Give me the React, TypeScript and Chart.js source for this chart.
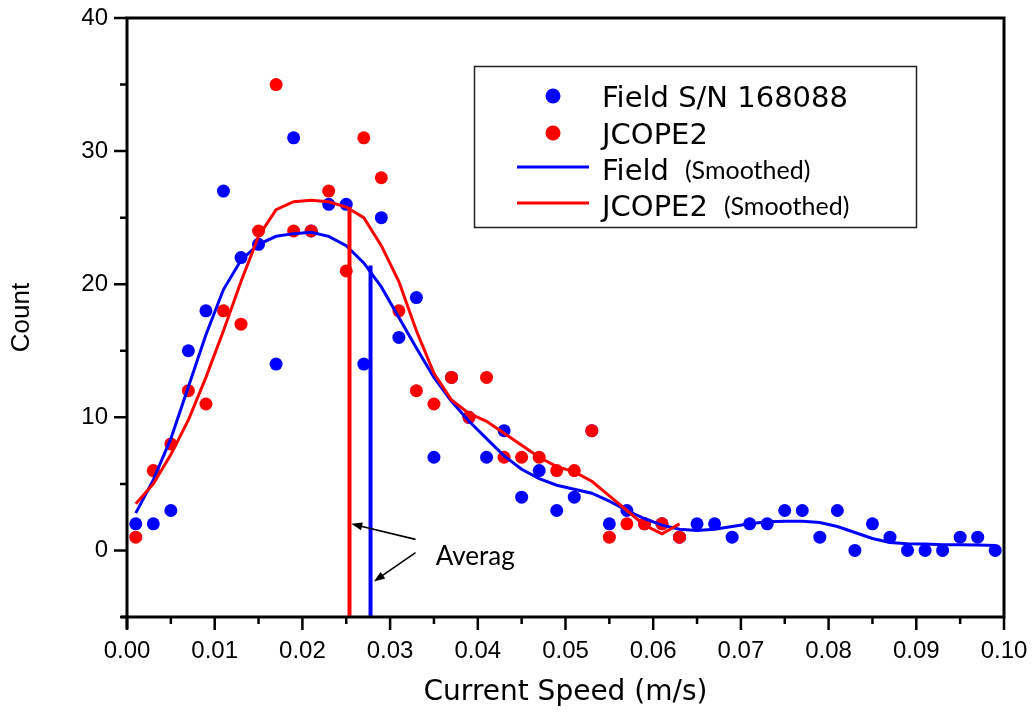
import { useEffect, useRef } from 'react';
import { Chart, registerables } from 'chart.js';

Chart.register(...registerables);

// ---- data ----
const speedBins = [
  0.001, 0.003, 0.005, 0.007, 0.009, 0.011, 0.013, 0.015, 0.017, 0.019,
  0.021, 0.023, 0.025, 0.027, 0.029, 0.031, 0.033, 0.035, 0.037, 0.039,
  0.041, 0.043, 0.045, 0.047, 0.049, 0.051, 0.053, 0.055, 0.057, 0.059,
  0.061, 0.063, 0.065, 0.067, 0.069, 0.071, 0.073, 0.075, 0.077, 0.079,
  0.081, 0.083, 0.085, 0.087, 0.089, 0.091, 0.093, 0.095, 0.097, 0.099,
];
const fieldCounts = [
  2, 2, 3, 15, 18, 27, 22, 23, 14, 31,
  24, 26, 26, 14, 25, 16, 19, 7, 13, 10,
  7, 9, 4, 6, 3, 4, 9, 2, 3, 2,
  2, 1, 2, 2, 1, 2, 2, 3, 3, 1,
  3, 0, 2, 1, 0, 0, 0, 1, 1, 0,
];
const jcopeCounts = [
  1, 6, 8, 12, 11, 18, 17, 24, 35, 24,
  24, 27, 21, 31, 28, 18, 12, 11, 13, 10,
  13, 7, 7, 7, 6, 6, 9, 1, 2, 2,
  2, 1,
];
const fieldSmoothed = [
  2.8, 5.3, 8.4, 12.3, 16.2, 19.6, 21.8, 23.0, 23.6, 23.8,
  23.9, 23.6, 22.9, 21.6, 19.8, 17.5, 15.2, 13.0, 11.2, 9.7,
  8.4, 7.1, 6.1, 5.4, 4.9, 4.6, 4.3, 3.7, 3.0, 2.4,
  1.9, 1.6, 1.5, 1.6, 1.8, 2.0, 2.15, 2.2, 2.2, 2.1,
  1.8, 1.35, 0.9, 0.6, 0.5, 0.48, 0.43, 0.43, 0.4, 0.38,
];
const jcopeSmoothed = [
  3.5, 5.0, 7.2, 9.8, 13.0, 16.5, 20.2, 23.6, 25.6, 26.2,
  26.3, 26.2, 25.8, 25.0, 22.9, 20.2, 16.5, 13.3, 11.3, 10.3,
  9.7, 8.8, 7.9, 7.0, 6.3, 5.9, 5.2, 4.1, 3.0, 1.9,
  1.25, 2.0,
];
const fieldAverage = 0.02777;
const jcopeAverage = 0.02537;
const fieldAverageTop = 21.4;
const jcopeAverageTop = 25.8;

const xMajorTicks = [0, 0.01, 0.02, 0.03, 0.04, 0.05, 0.06, 0.07, 0.08, 0.09, 0.1];
const yMajorTicks = [0, 10, 20, 30, 40];
const yMinorTicks = [-5, 5, 15, 25, 35];
const yMin = -5;
const yMax = 40;

const legendLabels = ['Field S/N 168088', 'JCOPE2', 'Field', 'JCOPE2'];
const smoothedTag = '(Smoothed)';
const noteText = 'Averag';

const BLUE = '#0000ff';
const RED = '#ff0000';

const pts = (xs: number[], ys: number[]) => ys.map((y, i) => ({ x: xs[i], y }));

const framePlugin = {
  id: 'frame',
  afterDatasetsDraw(chart: any) {
    const { ctx, chartArea: a, scales } = chart;
    const xs = scales.x;
    const ys = scales.y;
    ctx.save();
    ctx.strokeStyle = '#000';
    ctx.lineWidth = 3;
    ctx.beginPath();
    ctx.moveTo(a.left - 6, a.bottom);
    ctx.lineTo(a.right, a.bottom);
    ctx.lineTo(a.right, a.top);
    ctx.lineTo(a.left, a.top);
    ctx.lineTo(a.left, a.bottom + 12);
    ctx.stroke();
    ctx.lineWidth = 2.5;
    ctx.beginPath();
    yMajorTicks.forEach((v) => {
      const p = ys.getPixelForValue(v);
      ctx.moveTo(a.left - 13, p);
      ctx.lineTo(a.left, p);
    });
    yMinorTicks.forEach((v) => {
      const p = ys.getPixelForValue(v);
      ctx.moveTo(a.left - 7, p);
      ctx.lineTo(a.left, p);
    });
    xMajorTicks.forEach((v, i) => {
      const p = xs.getPixelForValue(v);
      ctx.moveTo(p, a.bottom);
      ctx.lineTo(p, a.bottom + 13);
      if (i < xMajorTicks.length - 1) {
        const m = xs.getPixelForValue((v + xMajorTicks[i + 1]) / 2);
        ctx.moveTo(m, a.bottom);
        ctx.lineTo(m, a.bottom + 7);
      }
    });
    ctx.stroke();
    ctx.restore();
  },
};

const legendPlugin = {
  id: 'legendBox',
  afterDraw(chart: any) {
    const { ctx } = chart;
    ctx.save();
    ctx.strokeStyle = '#222';
    ctx.lineWidth = 1.5;
    ctx.strokeRect(474.5, 66.5, 442, 161);
    const baselines = [106.5, 143.5, 179.5, 215.5];
    const markY = [96, 133, 167, 203];
    const colors = [BLUE, RED, BLUE, RED];
    const textX = 602;
    for (let i = 0; i < 4; i++) {
      ctx.fillStyle = colors[i];
      ctx.strokeStyle = colors[i];
      if (i < 2) {
        ctx.beginPath();
        ctx.arc(553, markY[i], 7.5, 0, Math.PI * 2);
        ctx.fill();
      } else {
        ctx.lineWidth = 3;
        ctx.beginPath();
        ctx.moveTo(517, markY[i]);
        ctx.lineTo(589, markY[i]);
        ctx.stroke();
      }
      ctx.fillStyle = '#000';
      ctx.font = '29px "DejaVu Sans"';
      ctx.textBaseline = 'alphabetic';
      ctx.textAlign = 'left';
      ctx.fillText(legendLabels[i], textX, baselines[i]);
      if (i >= 2) {
        const w = ctx.measureText(legendLabels[i]).width;
        ctx.font = '25px Lato';
        ctx.fillText(smoothedTag, textX + w + 16, baselines[i] - 1);
      }
    }
    ctx.restore();
  },
};

const arrow = (ctx: any, x0: number, y0: number, x1: number, y1: number) => {
  const ang = Math.atan2(y1 - y0, x1 - x0);
  ctx.beginPath();
  ctx.moveTo(x0, y0);
  ctx.lineTo(x1 - 8 * Math.cos(ang), y1 - 8 * Math.sin(ang));
  ctx.stroke();
  ctx.beginPath();
  ctx.moveTo(x1, y1);
  ctx.lineTo(x1 - 11 * Math.cos(ang) + 4 * Math.sin(ang), y1 - 11 * Math.sin(ang) - 4 * Math.cos(ang));
  ctx.lineTo(x1 - 11 * Math.cos(ang) - 4 * Math.sin(ang), y1 - 11 * Math.sin(ang) + 4 * Math.cos(ang));
  ctx.closePath();
  ctx.fill();
};

const notePlugin = {
  id: 'avgNote',
  afterDraw(chart: any) {
    const { ctx, scales } = chart;
    const X = (v: number) => scales.x.getPixelForValue(v);
    const Y = (v: number) => scales.y.getPixelForValue(v);
    ctx.save();
    ctx.strokeStyle = '#000';
    ctx.fillStyle = '#000';
    ctx.lineWidth = 1.6;
    arrow(ctx, X(0.0329), Y(0.83), X(0.02557), Y(2.0));
    arrow(ctx, X(0.0329), Y(-0.17), X(0.02815), Y(-2.33));
    ctx.font = '26px Lato';
    ctx.textBaseline = 'alphabetic';
    ctx.textAlign = 'left';
    ctx.fillText(noteText, X(0.0352), Y(-1.13));
    ctx.restore();
  },
};

export default function App() {
  const ref = useRef<HTMLCanvasElement>(null);
  useEffect(() => {
    document.body.style.margin = '0';
    const chart = new Chart(ref.current as HTMLCanvasElement, {
      type: 'scatter',
      data: {
        datasets: [
          {
            label: 'Field average',
            data: [
              { x: fieldAverage, y: fieldAverageTop },
              { x: fieldAverage, y: yMin },
            ],
            showLine: true,
            borderColor: BLUE,
            borderWidth: 4,
            pointRadius: 0,
            order: 1,
          },
          {
            label: 'JCOPE2 average',
            data: [
              { x: jcopeAverage, y: jcopeAverageTop },
              { x: jcopeAverage, y: yMin },
            ],
            showLine: true,
            borderColor: RED,
            borderWidth: 4,
            pointRadius: 0,
            order: 2,
          },
          {
            label: 'JCOPE2 (Smoothed)',
            data: pts(speedBins, jcopeSmoothed),
            showLine: true,
            borderColor: RED,
            borderWidth: 3,
            pointRadius: 0,
            tension: 0,
            order: 3,
          },
          {
            label: 'Field (Smoothed)',
            data: pts(speedBins, fieldSmoothed),
            showLine: true,
            borderColor: BLUE,
            borderWidth: 3,
            pointRadius: 0,
            tension: 0,
            order: 4,
          },
          {
            label: 'JCOPE2',
            data: pts(speedBins, jcopeCounts),
            backgroundColor: RED,
            borderWidth: 0,
            pointRadius: 6.5,
            order: 5,
          },
          {
            label: 'Field S/N 168088',
            data: pts(speedBins, fieldCounts),
            backgroundColor: BLUE,
            borderWidth: 0,
            pointRadius: 6.5,
            order: 6,
          },
        ],
      },
      options: {
        responsive: false,
        animation: false,
        devicePixelRatio: 1,
        layout: { padding: { left: 0, top: 18, right: 30, bottom: 0 } },
        plugins: { legend: { display: false }, tooltip: { enabled: false } },
        scales: {
          x: {
            type: 'linear',
            min: 0,
            max: 0.1,
            grid: { display: false, drawTicks: false },
            border: { display: false },
            afterBuildTicks: (s: any) => {
              s.ticks = xMajorTicks.map((v) => ({ value: v }));
            },
            afterFit: (s: any) => {
              s.height = 98;
              s.paddingLeft = 0;
              s.paddingRight = 0;
              s.paddingTop = 0;
              s.paddingBottom = 0;
            },
            ticks: {
              color: '#000',
              padding: 20,
              maxRotation: 0,
              autoSkip: false,
              font: { family: '"Liberation Sans"', size: 24 },
              callback: (v: any) => Number(v).toFixed(2),
            },
            title: {
              display: true,
              text: 'Current Speed (m/s)',
              color: '#000',
              font: { family: '"DejaVu Sans"', size: 28 },
              padding: { top: 0, bottom: 5 },
            },
          },
          y: {
            type: 'linear',
            min: yMin,
            max: yMax,
            grid: { display: false, drawTicks: false },
            border: { display: false },
            afterBuildTicks: (s: any) => {
              s.ticks = yMajorTicks.map((v) => ({ value: v }));
            },
            afterFit: (s: any) => {
              s.width = 127;
              s.paddingLeft = 0;
              s.paddingRight = 0;
              s.paddingTop = 0;
              s.paddingBottom = 0;
            },
            ticks: {
              color: '#000',
              padding: 19,
              font: { family: '"Liberation Sans"', size: 24 },
              callback: (v: any) => String(v),
            },
            title: {
              display: true,
              text: 'Count',
              color: '#000',
              font: { family: '"Liberation Sans"', size: 26 },
              padding: { top: 6, bottom: 0 },
            },
          },
        },
      },
      plugins: [framePlugin, legendPlugin, notePlugin],
    } as any);
    return () => chart.destroy();
  }, []);
  return (
    <div style={{ width: 1034, height: 715 }}>
      <canvas ref={ref} width={1034} height={715} style={{ display: 'block' }} />
    </div>
  );
}
